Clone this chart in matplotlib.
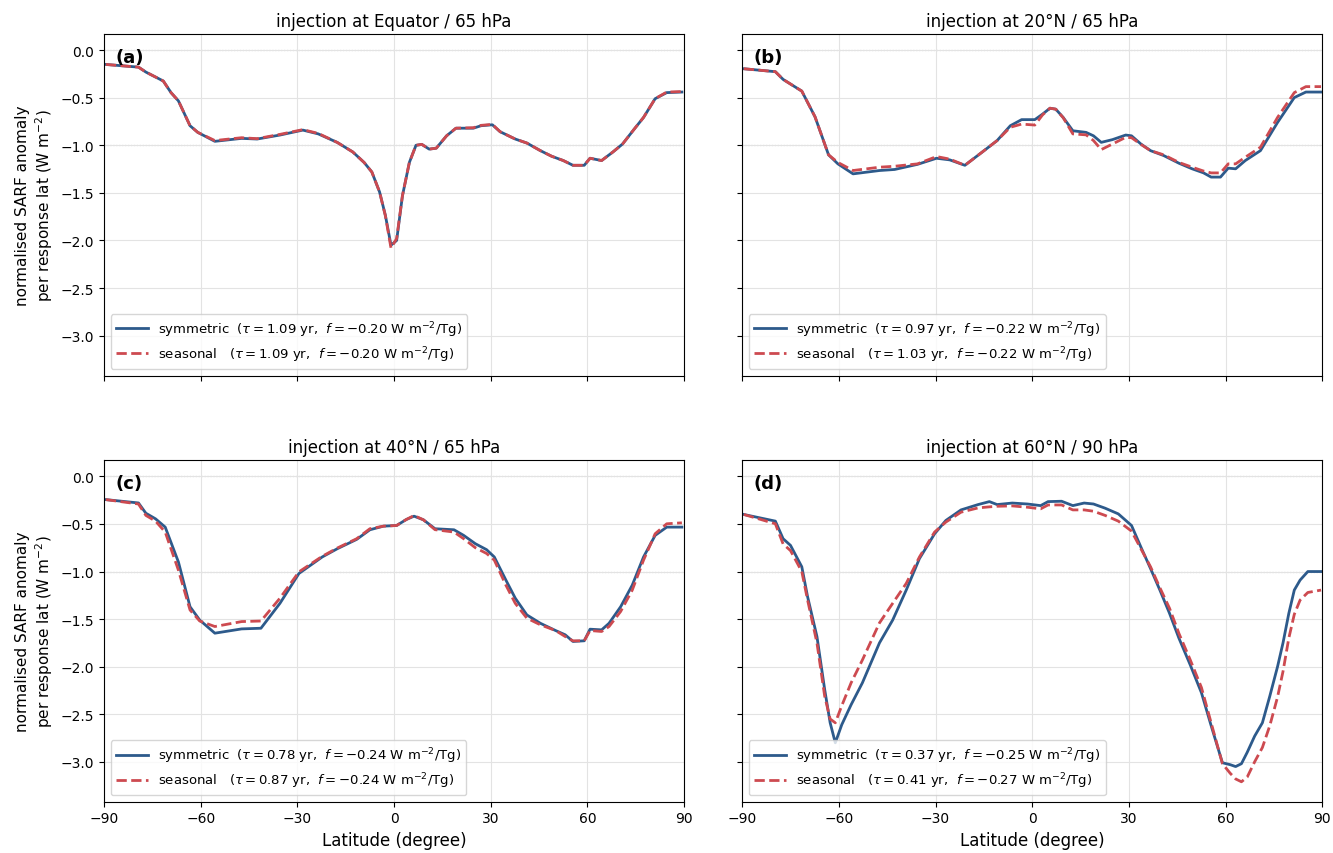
# normalised SARF anomaly per response latitude, 4 injection cases
import numpy as np
import matplotlib
matplotlib.use('Agg')
import matplotlib.pyplot as plt

# ---- data (lat in degree, SARF in W m-2) ----
lat_a = [-89.4, -79.3, -77.0, -71.6, -69.2, -66.9, -63.3, -60.9, -55.6, -47.3, -42.5, -35.4, -28.3, -23.5,
         -17.6, -12.8, -9.3, -6.9, -4.5, -2.7, -0.95, 0.8, 2.6, 4.75, 6.8, 8.6, 10.9, 13.1, 16.3, 19.2,
         24.6, 27.0, 30.5, 32.9, 37.6, 41.2, 45.4, 48.9, 52.5, 55.5, 59.0, 60.8, 64.4, 67.9, 70.9, 74.5,
         77.4, 81.0, 84.6, 89.3]
sym_a = [-0.15, -0.178, -0.23, -0.324, -0.446, -0.533, -0.794, -0.864, -0.958, -0.927, -0.934, -0.892, -0.84,
         -0.88, -0.97, -1.07, -1.18, -1.28, -1.49, -1.735, -2.05, -2.0, -1.53, -1.18, -1.0, -0.99, -1.04,
         -1.03, -0.9, -0.82, -0.82, -0.794, -0.784, -0.857, -0.934, -0.976, -1.056, -1.115, -1.16, -1.21,
         -1.21, -1.136, -1.16, -1.07, -0.986, -0.83, -0.707, -0.51, -0.446, -0.44]
sea_a = [-0.15, -0.178, -0.23, -0.324, -0.446, -0.533, -0.794, -0.864, -0.95, -0.92, -0.93, -0.885, -0.835,
         -0.875, -0.97, -1.07, -1.18, -1.28, -1.49, -1.74, -2.08, -1.98, -1.53, -1.18, -1.0, -0.99, -1.04,
         -1.03, -0.9, -0.82, -0.815, -0.79, -0.78, -0.857, -0.934, -0.976, -1.056, -1.115, -1.16, -1.21,
         -1.21, -1.136, -1.16, -1.07, -0.986, -0.83, -0.707, -0.51, -0.44, -0.435]

lat_b = [-89.5, -79.7, -77.3, -71.5, -67.4, -63.2, -60.3, -55.6, -47.4, -42.7, -35.6, -29.7, -25.6, -20.9,
         -15.6, -10.9, -6.8, -3.3, 0.8, 3.2, 5.5, 7.3, 9.6, 12.6, 16.7, 19.0, 21.4, 24.9, 29.0, 30.8, 33.7,
         36.7, 40.8, 45.5, 49.6, 53.1, 55.5, 58.4, 60.8, 63.1, 66.1, 70.8, 76.1, 81.3, 84.9, 89.6]
sym_b = [-0.195, -0.226, -0.307, -0.43, -0.70, -1.10, -1.195, -1.30, -1.265, -1.254, -1.20, -1.136, -1.153,
         -1.21, -1.073, -0.95, -0.794, -0.73, -0.73, -0.672, -0.61, -0.62, -0.707, -0.847, -0.864, -0.9,
         -0.969, -0.94, -0.892, -0.9, -0.986, -1.056, -1.108, -1.188, -1.247, -1.289, -1.334, -1.334, -1.24,
         -1.247, -1.16, -1.056, -0.76, -0.498, -0.44, -0.44]
sea_b = [-0.195, -0.226, -0.307, -0.43, -0.70, -1.10, -1.18, -1.265, -1.23, -1.22, -1.195, -1.118, -1.145,
         -1.21, -1.073, -0.95, -0.81, -0.777, -0.787, -0.68, -0.61, -0.62, -0.71, -0.88, -0.89, -0.95,
         -1.045, -0.986, -0.916, -0.92, -0.99, -1.056, -1.10, -1.18, -1.23, -1.27, -1.29, -1.29, -1.195,
         -1.195, -1.125, -1.02, -0.707, -0.446, -0.383, -0.383]

lat_c = [-89.4, -79.3, -77.0, -74.0, -71.0, -66.9, -63.3, -60.3, -55.6, -47.3, -41.3, -35.4, -29.5, -22.3,
         -17.6, -11.6, -7.5, -3.3, 0.8, 3.8, 6.2, 9.1, 12.7, 18.6, 21.6, 25.2, 28.7, 31.1, 34.7, 37.6, 41.2,
         45.4, 50.1, 53.1, 55.5, 59.0, 60.8, 64.4, 66.7, 70.3, 73.9, 77.4, 81.0, 84.6, 89.3]
sym_c = [-0.244, -0.279, -0.387, -0.446, -0.533, -0.90, -1.37, -1.51, -1.648, -1.603, -1.596, -1.334, -1.02,
         -0.847, -0.76, -0.662, -0.561, -0.523, -0.516, -0.453, -0.418, -0.456, -0.55, -0.561, -0.62,
         -0.707, -0.77, -0.847, -1.09, -1.28, -1.456, -1.544, -1.62, -1.665, -1.735, -1.728, -1.606,
         -1.613, -1.544, -1.37, -1.143, -0.847, -0.62, -0.533, -0.533]
sea_c = [-0.244, -0.29, -0.41, -0.47, -0.585, -0.986, -1.404, -1.52, -1.578, -1.526, -1.52, -1.28, -1.003,
         -0.84, -0.753, -0.655, -0.55, -0.523, -0.516, -0.453, -0.411, -0.456, -0.56, -0.585, -0.655,
         -0.749, -0.81, -0.88, -1.143, -1.334, -1.49, -1.56, -1.62, -1.683, -1.728, -1.728, -1.62, -1.63,
         -1.578, -1.42, -1.195, -0.88, -0.603, -0.498, -0.488]

lat_d = [-89.5, -79.7, -77.3, -75.0, -71.5, -69.7, -66.8, -64.4, -62.7, -61.1, -59.1, -56.2, -52.7, -47.4,
         -43.3, -39.1, -35.0, -30.3, -26.8, -22.1, -16.8, -13.3, -10.9, -6.2, -1.5, 2.6, 4.9, 9.1, 12.6,
         16.1, 19.0, 22.6, 26.7, 30.8, 33.7, 36.7, 39.6, 42.6, 45.5, 49.0, 52.5, 55.5, 59.0, 61.4, 63.1,
         64.9, 66.7, 69.0, 71.4, 73.7, 76.1, 77.8, 79.6, 81.3, 83.1, 85.5, 89.6]
sym_d = [-0.40, -0.47, -0.655, -0.725, -0.95, -1.265, -1.683, -2.24, -2.59, -2.80, -2.61, -2.40, -2.17,
         -1.75, -1.51, -1.195, -0.864, -0.603, -0.463, -0.352, -0.296, -0.265, -0.296, -0.28, -0.29,
         -0.307, -0.265, -0.261, -0.307, -0.28, -0.29, -0.334, -0.394, -0.516, -0.742, -0.969, -1.195,
         -1.44, -1.70, -1.98, -2.275, -2.62, -3.01, -3.03, -3.05, -3.02, -2.90, -2.73, -2.59, -2.31, -2.0,
         -1.75, -1.44, -1.195, -1.09, -1.0, -1.0]
sea_d = [-0.40, -0.498, -0.71, -0.78, -1.0, -1.3, -1.75, -2.31, -2.55, -2.59, -2.41, -2.17, -1.93, -1.54,
         -1.334, -1.125, -0.847, -0.585, -0.48, -0.376, -0.331, -0.32, -0.314, -0.31, -0.324, -0.341,
         -0.30, -0.30, -0.352, -0.352, -0.366, -0.41, -0.47, -0.575, -0.76, -0.95, -1.17, -1.387, -1.65,
         -1.927, -2.22, -2.59, -3.02, -3.12, -3.18, -3.21, -3.16, -3.0, -2.85, -2.62, -2.32, -2.05, -1.7,
         -1.45, -1.3, -1.22, -1.195]

titles = ['injection at Equator / 65 hPa', 'injection at 20°N / 65 hPa',
          'injection at 40°N / 65 hPa', 'injection at 60°N / 90 hPa']
panels = ['(a)', '(b)', '(c)', '(d)']
tau_sym = ['1.09', '0.97', '0.78', '0.37']
tau_sea = ['1.09', '1.03', '0.87', '0.41']
f_sym = ['0.20', '0.22', '0.24', '0.25']
f_sea = ['0.20', '0.22', '0.24', '0.27']

lats = [lat_a, lat_b, lat_c, lat_d]
syms = [sym_a, sym_b, sym_c, sym_d]
seas = [sea_a, sea_b, sea_c, sea_d]

col_sym = '#2d5a8b'
col_sea = '#cd4a50'

fig, axes = plt.subplots(2, 2, figsize=(13.33, 8.54), dpi=100, sharex=True, sharey=True)
fig.subplots_adjust(left=0.078, right=0.992, top=0.959, bottom=0.06, hspace=0.248, wspace=0.1)

for i, ax in enumerate(axes.flat):
    ax.grid(color='#e3e3e3', lw=0.8)
    ax.axhline(0, color='grey', ls=':', lw=0.8, zorder=1)
    ax.axhline(-1, color='grey', ls=':', lw=0.8, zorder=1)
    ax.plot(lats[i], syms[i], color=col_sym, lw=2,
            label=r'symmetric  ($\tau = %s$ yr,  $f = -%s$ W m$^{-2}$/Tg)' % (tau_sym[i], f_sym[i]))
    ax.plot(lats[i], seas[i], color=col_sea, lw=2, ls='--',
            label=r'seasonal   ($\tau = %s$ yr,  $f = -%s$ W m$^{-2}$/Tg)' % (tau_sea[i], f_sea[i]))
    ax.set_title(titles[i], fontsize=12)
    ax.text(0.02, 0.96, panels[i], transform=ax.transAxes, fontsize=13, fontweight='bold', va='top')
    ax.legend(loc='lower left', fontsize=9.5, handlelength=2.4, labelspacing=0.4)
    ax.set_xlim(-90, 90)
    ax.set_ylim(-3.42, 0.17)
    ax.set_xticks(range(-90, 91, 30))
    ax.set_yticks([0.0, -0.5, -1.0, -1.5, -2.0, -2.5, -3.0])
    ax.tick_params(labelsize=10)

for ax in axes[1]:
    ax.set_xlabel('Latitude (degree)', fontsize=12)
for ax in axes[:, 0]:
    ax.set_ylabel('normalised SARF anomaly\nper response lat (W m$^{-2}$)', fontsize=11)

fig.savefig('out.png', dpi=100)
